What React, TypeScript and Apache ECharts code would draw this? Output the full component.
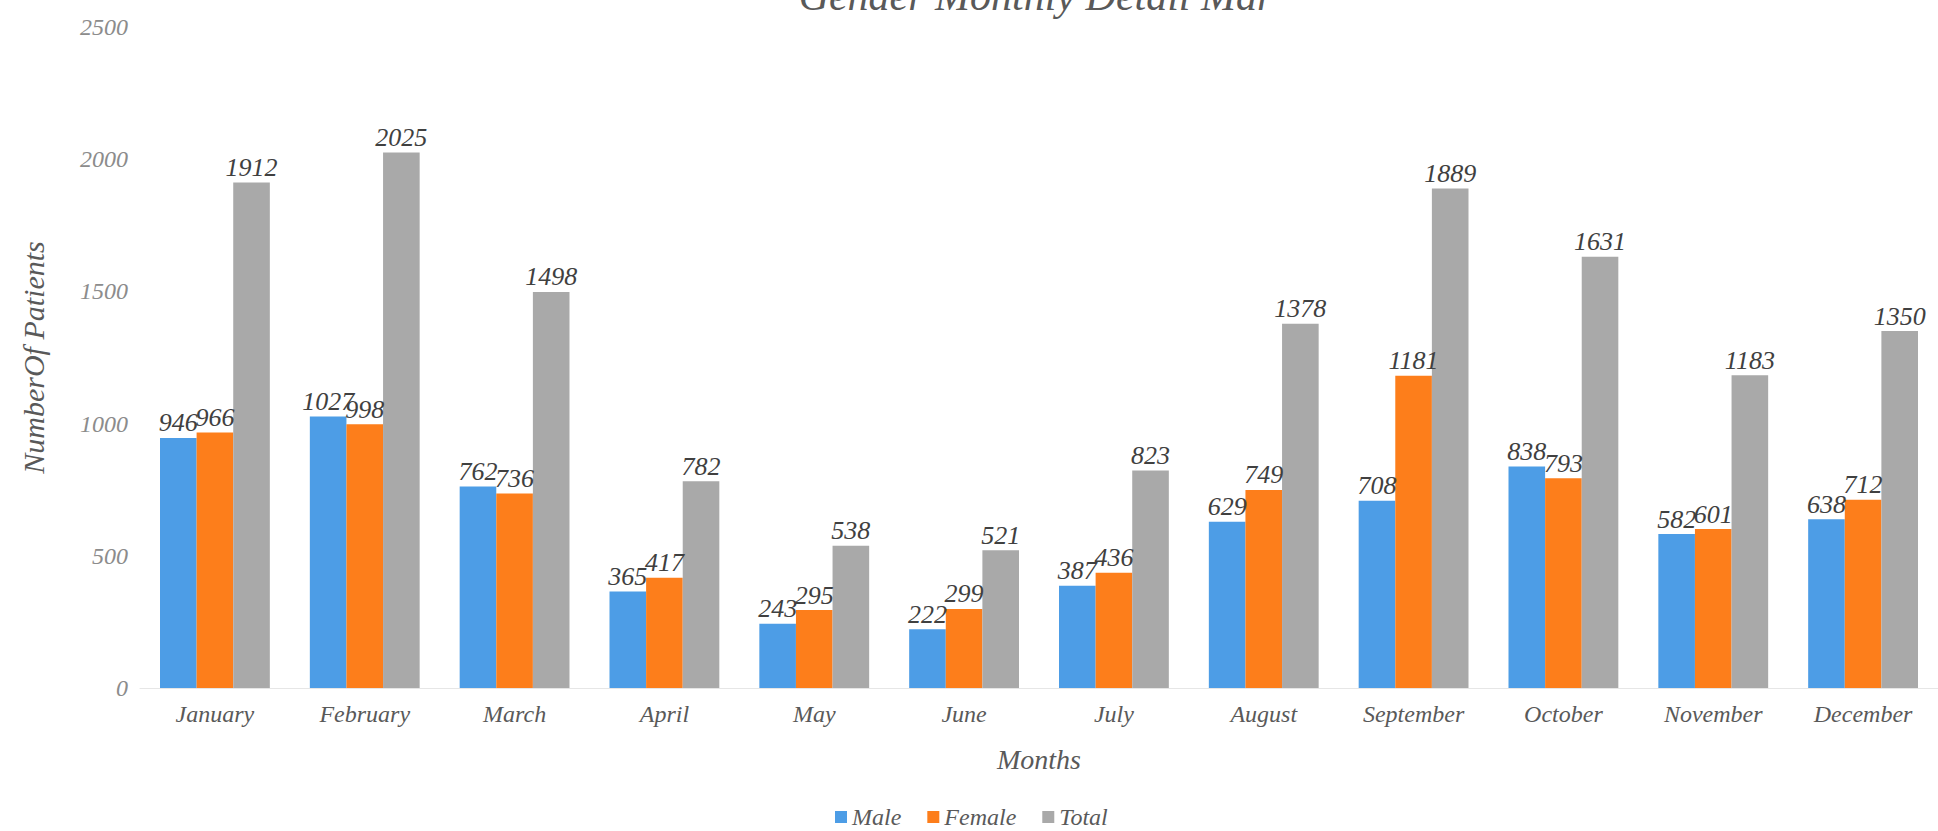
import React, { useEffect, useRef } from "react";
import * as echarts from "echarts";

const months = ["January", "February", "March", "April", "May", "June", "July", "August", "September", "October", "November", "December"];
const male = [946, 1027, 762, 365, 243, 222, 387, 629, 708, 838, 582, 638];
const female = [966, 998, 736, 417, 295, 299, 436, 749, 1181, 793, 601, 712];
const total = [1912, 2025, 1498, 782, 538, 521, 823, 1378, 1889, 1631, 1183, 1350];

const FONT = "'Liberation Serif', serif";

export default function App() {
  const ref = useRef<HTMLDivElement>(null);
  useEffect(() => {
    if (!ref.current) return;
    const chart = echarts.init(ref.current, null, { renderer: "svg" });
    const label = {
      show: true,
      position: "top" as const,
      distance: 2,
      color: "#404040",
      fontFamily: FONT,
      fontStyle: "italic" as const,
      fontSize: 26,
    };
    chart.setOption({
      animation: false,
      backgroundColor: "#ffffff",
      title: {
        text: "Gender Monthly Detail Mar",
        left: 1031,
        textAlign: "center",
        top: -30,
        textStyle: { fontFamily: FONT, fontStyle: "italic", fontWeight: "normal", fontSize: 42, color: "#595959" },
      },
      legend: {
        data: ["Male", "Female", "Total"],
        left: 830,
        top: 800,
        itemWidth: 12,
        itemHeight: 12,
        itemGap: 26,
        icon: "rect",
        textStyle: { fontFamily: FONT, fontStyle: "italic", fontSize: 24, color: "#595959" },
      },
      grid: { left: 140, top: 27, width: 1800, height: 661, containLabel: false },
      xAxis: {
        type: "category",
        data: months,
        name: "Months",
        nameLocation: "middle",
        nameGap: 57,
        nameTextStyle: { fontFamily: FONT, fontStyle: "italic", fontSize: 28, color: "#595959" },
        axisLine: { show: true, lineStyle: { color: "#e6e6e6" } },
        axisTick: { show: false },
        axisLabel: { fontFamily: FONT, fontStyle: "italic", fontSize: 24, color: "#595959", margin: 14 },
      },
      yAxis: {
        type: "value",
        min: 0,
        max: 2500,
        interval: 500,
        name: "NumberOf Patients",
        nameLocation: "middle",
        nameRotate: 90,
        nameGap: 92,
        nameTextStyle: { fontFamily: FONT, fontStyle: "italic", fontSize: 30, color: "#595959" },
        splitLine: { show: false },
        axisLine: { show: false },
        axisTick: { show: false },
        axisLabel: {
          fontFamily: FONT,
          fontStyle: "italic",
          fontSize: 24,
          color: "#8c8c8c",
          margin: 12,
          formatter: (v: number) => String(v),
        },
      },
      series: [
        { name: "Male", type: "bar", data: male, barGap: "0%", barCategoryGap: "26.7%", itemStyle: { color: "#4d9de6" }, label },
        { name: "Female", type: "bar", data: female, barGap: "0%", barCategoryGap: "26.7%", itemStyle: { color: "#fd7e1b" }, label },
        { name: "Total", type: "bar", data: total, barGap: "0%", barCategoryGap: "26.7%", itemStyle: { color: "#a9a9a9" }, label },
      ],
    });
    return () => chart.dispose();
  }, []);
  return <div ref={ref} style={{ position: "absolute", left: 0, top: 0, width: 1938, height: 831 }} />;
}
